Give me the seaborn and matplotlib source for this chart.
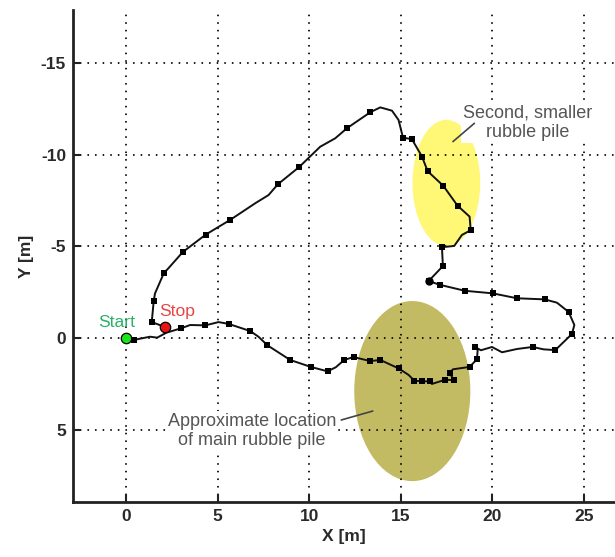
#!/usr/bin/env python3
# -*- coding: utf-8 -*-

"""Robot path around the rubble piles, X/Y position in metres."""

import pandas as pd
import matplotlib
matplotlib.use("Agg")
import matplotlib.pyplot as plt
from matplotlib.patches import Ellipse
import seaborn as sns

# path, from start to stop
path_x = [0, 0.44, 1.31, 1.7, 2.2, 3.0, 3.5, 4.33, 5.05, 5.6, 6.78, 7.23, 7.72, 8.96, 10.09,
          11.0, 11.45, 11.91, 12.42, 13.33, 13.88, 14.88, 15.43, 15.74, 16.16, 16.58, 16.7,
          17.43, 17.89, 17.67, 17.85, 18.76, 19.16, 19.2, 19.05, 19.38, 19.98, 20.53, 21.35,
          22.2, 22.8, 23.44, 24.35, 24.48, 24.17, 23.53, 22.86, 21.35, 20.02, 18.5, 17.16,
          16.52, 17.3, 17.25, 17.92, 18.34, 18.82, 18.76, 18.1, 17.32, 16.47, 16.16, 15.61,
          15.12, 14.88, 14.52, 13.88, 13.33, 12.06, 11.42, 10.6, 9.45, 8.29, 7.78, 7.05, 5.68,
          4.35, 3.1, 2.31, 2.06, 1.58, 1.51, 1.4, 2.13]
path_y = [0, 0.1, -0.07, -0.02, -0.29, -0.53, -0.71, -0.69, -0.87, -0.77, -0.38, -0.07, 0.4, 1.2,
          1.58, 1.82, 1.6, 1.2, 1.04, 1.26, 1.2, 1.66, 2.02, 2.33, 2.37, 2.37, 2.51, 2.28, 2.3,
          1.9, 1.71, 1.58, 1.16, 0.66, 0.49, 0.67, 0.49, 0.78, 0.6, 0.49, 0.62, 0.66, -0.22,
          -0.71, -1.42, -1.93, -2.11, -2.17, -2.44, -2.58, -2.9, -3.11, -3.93, -4.96, -5.03,
          -5.63, -5.89, -6.63, -7.23, -8.32, -9.11, -9.91, -10.86, -10.95, -11.91, -12.42,
          -12.6, -12.33, -11.46, -10.91, -10.45, -9.34, -8.4, -7.81, -7.36, -6.45, -5.65,
          -4.7, -3.81, -3.54, -2.44, -2.04, -0.87, -0.6]

# waypoints drawn as small squares
waypoint_x = [0.44, 3.0, 4.33, 5.6, 6.78, 7.72, 8.96, 10.09, 11.0, 11.91, 12.42, 13.33, 13.88,
              14.88, 15.74, 16.16, 16.58, 17.43, 17.89, 17.67, 18.76, 19.16, 19.05, 22.2, 23.44,
              24.35, 24.17, 22.86, 21.35, 20.02, 18.5, 17.16, 16.52, 17.3, 17.25, 18.82, 18.1,
              17.32, 16.47, 16.16, 15.61, 15.12, 13.33, 12.06, 9.45, 8.29, 5.68, 4.35, 3.1,
              2.06, 1.51, 1.4]
waypoint_y = [0.1, -0.53, -0.69, -0.77, -0.38, 0.4, 1.2, 1.58, 1.82, 1.2, 1.04, 1.26, 1.2, 1.66,
              2.33, 2.37, 2.37, 2.28, 2.3, 1.9, 1.58, 1.16, 0.49, 0.49, 0.66, -0.22, -1.42,
              -2.11, -2.17, -2.44, -2.58, -2.9, -3.11, -3.93, -4.96, -5.89, -7.23, -8.32, -9.11,
              -9.91, -10.86, -10.95, -12.33, -11.46, -9.34, -8.4, -6.45, -5.65, -4.7, -3.54,
              -2.04, -0.87]

start_xy = (0, 0)
stop_xy = (2.13, -0.6)
blob_xy = (16.52, -3.11)

x_ticks = [0, 5, 10, 15, 20, 25]
y_ticks = [-15, -10, -5, 0, 5]

sns.set_theme(style="ticks")
plt.rcParams['font.family'] = ['Liberation Sans', 'DejaVu Sans']
plt.rcParams['axes.unicode_minus'] = False

df = pd.DataFrame({'x': path_x, 'y': path_y})
waypoints = pd.DataFrame({'x': waypoint_x, 'y': waypoint_y})

fig = plt.figure(figsize=(6.15, 5.57), dpi=100)
ax = fig.add_axes([73 / 615, 1 - 502 / 557, 542 / 615, 492 / 557])

# rubble piles
ax.add_patch(Ellipse((15.63, 2.9), 6.34, 9.84, facecolor='#c2bb63', edgecolor='none', zorder=1))
ax.add_patch(Ellipse((17.49, -8.47), 3.7, 6.9, facecolor='#fff776', edgecolor='none', zorder=1))

sns.lineplot(data=df, x='x', y='y', sort=False, estimator=None, color='#111111',
             linewidth=1.4, ax=ax, zorder=3)
sns.scatterplot(data=waypoints, x='x', y='y', marker='s', s=14, color='black',
                linewidth=0, ax=ax, zorder=3)
ax.plot(*blob_xy, 'o', ms=5, color='black', zorder=3)

ax.plot(*start_xy, 'o', ms=7.5, mfc='#19e619', mec='black', mew=0.9, zorder=4)
ax.plot(*stop_xy, 'o', ms=7.5, mfc='#e81414', mec='black', mew=0.9, zorder=4)

ax.set_xlim(-2.9, 26.7)
ax.set_ylim(8.96, -17.92)
ax.set_xticks(x_ticks)
ax.set_yticks(y_ticks)

ax.set_axisbelow(False)
ax.grid(True, color='black', linewidth=1.4, linestyle=(0, (0.01, 3.9)), dash_capstyle='round')
ax.tick_params(direction='in', length=5, width=1.5, labelsize=12.5, labelcolor='#2a2a2a',
               color='#222222', pad=5)
for label in ax.get_xticklabels() + ax.get_yticklabels():
    label.set_fontweight('bold')
sns.despine(ax=ax)
ax.spines['left'].set_linewidth(2)
ax.spines['bottom'].set_linewidth(2)
ax.spines['left'].set_color('#222222')
ax.spines['bottom'].set_color('#222222')

ax.set_xlabel('X [m]', fontsize=12.5, fontweight='bold', color='#2a2a2a', labelpad=4)
ax.set_ylabel('Y [m]', fontsize=12.5, fontweight='bold', color='#2a2a2a', labelpad=5)

ax.text(-1.55, -0.84, 'Start', color='#2bb069', fontsize=12.6, ha='left', va='center', zorder=5)
ax.text(1.82, -1.44, 'Stop', color='#e64545', fontsize=12.6, ha='left', va='center', zorder=5)

white = dict(facecolor='white', edgecolor='none', pad=1.5)
ax.text(21.95, -11.75, 'Second, smaller\nrubble pile', color='#555555', fontsize=13, ha='center',
        va='center', linespacing=1.2, bbox=white, zorder=5)
ax.text(6.88, 5.08, 'Approximate location\nof main rubble pile', color='#555555', fontsize=13,
        ha='center', va='center', linespacing=1.2, bbox=white, zorder=5)

# leader lines to the piles
ax.plot([19.02, 17.85], [-11.73, -10.73], color='#444444', lw=1.2, zorder=5)
ax.plot([11.75, 13.47], [4.48, 3.99], color='#444444', lw=1.2, zorder=5)

fig.savefig('out.png', dpi=100)
